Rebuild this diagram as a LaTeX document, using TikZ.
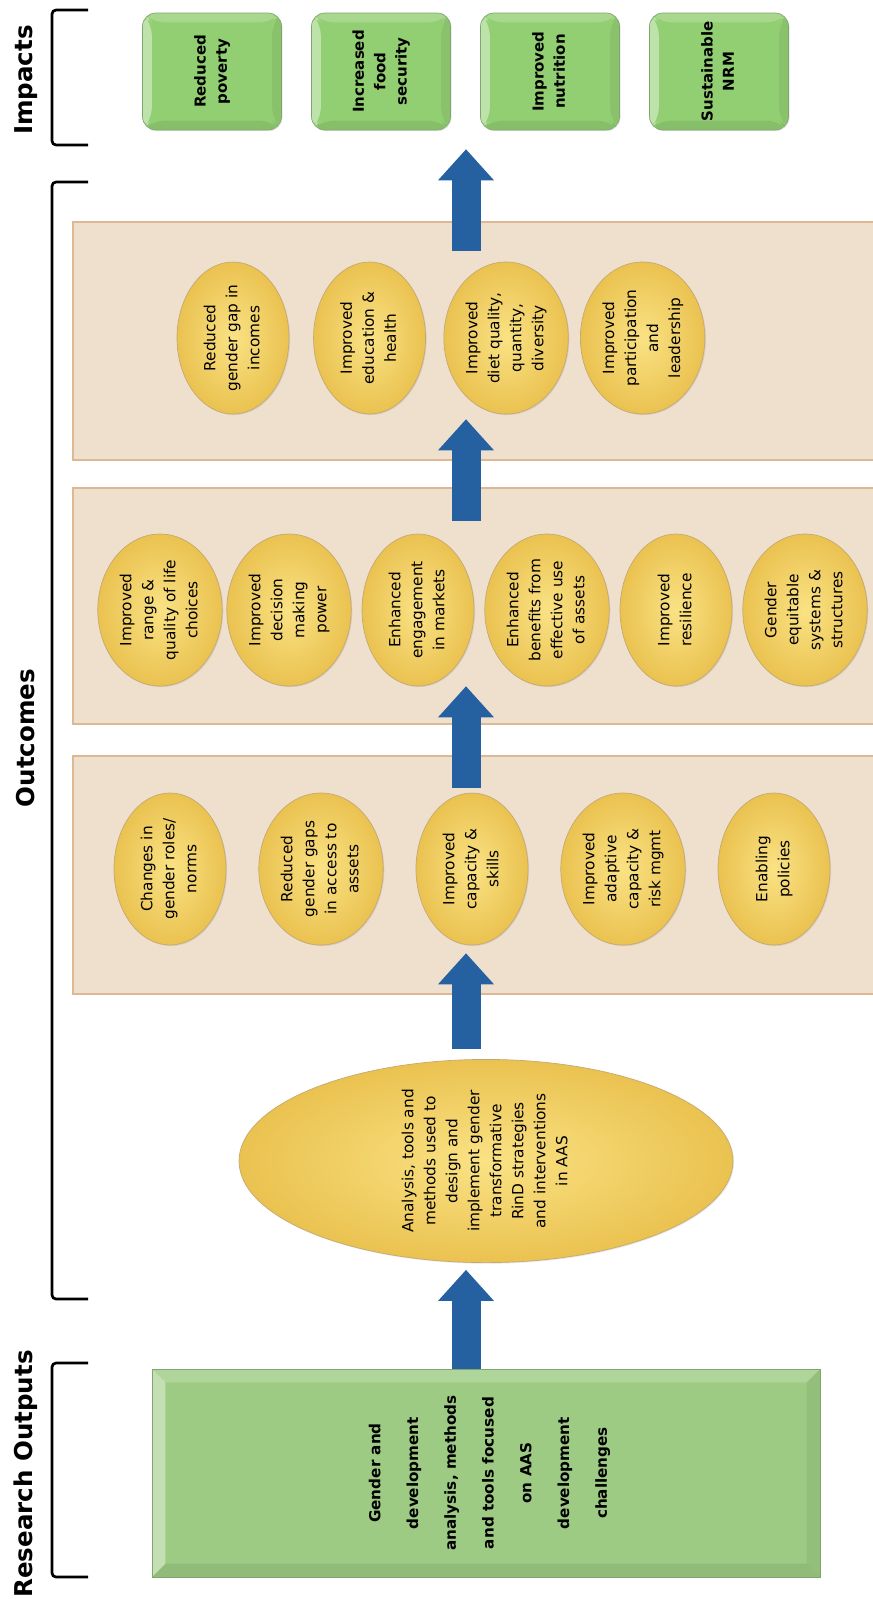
\documentclass[tikz,border=0pt]{standalone}
\usepackage{fontspec}
\setmainfont{DejaVu Sans}
\usetikzlibrary{arrows.meta}
\usetikzlibrary{positioning}
\usetikzlibrary{shapes.geometric}
\usetikzlibrary{shadows}

\definecolor{impgreen}{RGB}{146,207,114}
\definecolor{resgreen}{RGB}{157,203,131}
\definecolor{greenedge}{RGB}{128,166,112}
\definecolor{panelfill}{RGB}{239,224,206}
\definecolor{paneledge}{RGB}{222,184,146}
\definecolor{ovalin}{RGB}{250,226,132}
\definecolor{ovalout}{RGB}{234,194,80}
\definecolor{ovaledge}{RGB}{196,168,112}
\definecolor{flowblue}{RGB}{37,97,160}

\newcommand{\vtext}[1]{\rotatebox{90}{\begin{tabular}{@{}c@{}}#1\end{tabular}}}

\tikzset{
	mydiagram/.style = {
		x=0.75pt, y=-0.75pt, font=\fontsize{11.5}{16.5}\selectfont,
	},
	grouplabel/.style = {rotate=90, inner sep=0pt, font=\fontsize{18.4}{22}\selectfont\bfseries},
	bracket/.style = {line width=2pt, rounded corners=3pt},
	panel/.style = {draw=paneledge, fill=panelfill, line width=2pt, minimum width=620.25pt, inner sep=0pt},
	outoval/.style = {ellipse, draw=ovaledge, line width=0.5pt, inner color=ovalin, outer color=ovalout,
		minimum width=84pt, minimum height=114pt, inner sep=0pt,
		drop shadow={opacity=0.2, shadow xshift=0.8pt, shadow yshift=-0.8pt}},
	bevel/.style = {path picture={
		\fill[white, opacity=0.4] (path picture bounding box.south west) -- (path picture bounding box.north west)
			-- ([xshift=#1, yshift=-#1]path picture bounding box.north west) -- ([xshift=#1, yshift=#1]path picture bounding box.south west) -- cycle;
		\fill[white, opacity=0.2] (path picture bounding box.north west) -- (path picture bounding box.north east)
			-- ([xshift=-#1, yshift=-#1]path picture bounding box.north east) -- ([xshift=#1, yshift=-#1]path picture bounding box.north west) -- cycle;
		\fill[black, opacity=0.06] (path picture bounding box.north east) -- (path picture bounding box.south east)
			-- ([xshift=-#1, yshift=#1]path picture bounding box.south east) -- ([xshift=-#1, yshift=-#1]path picture bounding box.north east) -- cycle;
		\fill[black, opacity=0.08] (path picture bounding box.south east) -- (path picture bounding box.south west)
			-- ([xshift=#1, yshift=#1]path picture bounding box.south west) -- ([xshift=-#1, yshift=#1]path picture bounding box.south east) -- cycle;
	}},
	impbox/.style = {draw=greenedge, fill=impgreen, rounded corners=10pt, line width=0.5pt, bevel=7pt,
		minimum width=104.25pt, minimum height=87.75pt, inner sep=0pt,
		font=\fontsize{11.25}{16}\selectfont\bfseries,
		drop shadow={opacity=0.2, shadow xshift=0.8pt, shadow yshift=-0.8pt}},
	resbox/.style = {draw=greenedge, fill=resgreen, line width=0.5pt, bevel=10pt,
		minimum width=501pt, minimum height=156pt, inner sep=0pt,
		font=\fontsize{11.4}{28.3}\selectfont\bfseries,
		drop shadow={opacity=0.2, shadow xshift=0.8pt, shadow yshift=-0.8pt}},
	flowarrow/.style = {draw=flowblue, line width=21.75pt,
		-{Triangle[length=23.25pt, width=42pt, line width=0pt]}},
}

\begin{document}
\begin{tikzpicture}[mydiagram]
	\useasboundingbox (0,0) rectangle (873,1599);
	
	% group labels and brackets
	\node[grouplabel] (implab) at (26,80) {Impacts};
	\node[grouplabel] (outlab) at (26,738) {Outcomes};
	\node[grouplabel] (reslab) at (26,1474) {Research Outputs};
	\draw[bracket] (88,10) -- (52,10) -- (52,145) -- (88,145);
	\draw[bracket] (88,182) -- (52,182) -- (52,1299) -- (88,1299);
	\draw[bracket] (88,1363) -- (52,1363) -- (52,1577) -- (88,1577);
	
	% impacts
	\begin{scope}[node distance=126.75pt]
		\node[impbox] (imp1) at (212,71.5) {\vtext{Reduced\\poverty}};
		\node[impbox] (imp2) [right of=imp1] {\vtext{Increased\\food\\security}};
		\node[impbox] (imp3) [right of=imp2] {\vtext{Improved\\nutrition}};
		\node[impbox] (imp4) [right of=imp3] {\vtext{Sustainable\\NRM}};
	\end{scope}
	
	% outcome panels
	\node[panel, minimum height=178.5pt] (pan3) at (486.5,341) {};
	\node[panel, minimum height=177pt] (pan2) at (486.5,606) {};
	\node[panel, minimum height=178.5pt] (pan1) at (486.5,875) {};
	
	\begin{scope}[node distance=102.4pt]
		\node[outoval] (o31) at (233,338) {\vtext{Reduced\\gender gap in\\incomes}};
		\node[outoval] (o32) [right of=o31] {\vtext{Improved\\education \&\\health}};
		\node[outoval] (o33) [right of=o32] {\vtext{Improved\\diet quality,\\quantity,\\diversity}};
		\node[outoval] (o34) [right of=o33] {\vtext{Improved\\participation\\and\\leadership}};
	\end{scope}
	
	\begin{scope}[node distance=96.75pt]
		\node[outoval] (o21) at (160,610) {\vtext{Improved\\range \&\\quality of life\\choices}};
		\node[outoval] (o22) [right of=o21] {\vtext{Improved\\decision\\making\\power}};
		\node[outoval] (o23) [right of=o22] {\vtext{Enhanced\\engagement\\in markets}};
		\node[outoval] (o24) [right of=o23] {\vtext{Enhanced\\benefits from\\effective use\\of assets}};
		\node[outoval] (o25) [right of=o24] {\vtext{Improved\\resilience}};
		\node[outoval] (o26) [right of=o25] {\vtext{Gender\\equitable\\systems \&\\structures}};
	\end{scope}
	
	\begin{scope}[node distance=113.25pt]
		\node[outoval] (o11) at (170,869) {\vtext{Changes in\\gender roles/\\norms}};
		\node[outoval] (o12) [right of=o11] {\vtext{Reduced\\gender gaps\\in access to\\assets}};
		\node[outoval] (o13) [right of=o12] {\vtext{Improved\\capacity \&\\skills}};
		\node[outoval] (o14) [right of=o13] {\vtext{Improved\\adaptive\\capacity \&\\risk mgmt}};
		\node[outoval] (o15) [right of=o14] {\vtext{Enabling\\policies}};
	\end{scope}
	
	\node[outoval, minimum width=370.5pt, minimum height=148.5pt] (ana) at (486,1161)
		{\vtext{Analysis, tools and\\methods used to\\design and\\implement gender\\transformative\\RinD strategies\\and interventions\\in AAS}};
	
	% research outputs
	\node[resbox] (res) at (486,1473)
		{\vtext{Gender and\\development\\analysis, methods\\and tools focused\\on AAS\\development\\challenges}};
	
	% flow arrows
	\coordinate (col) at (466,0);
	\draw[flowarrow, shorten >=5.25pt] (res.north -| col) -- (ana.south -| col);
	\draw[flowarrow, shorten <=7.5pt, shorten >=6pt] (ana.north -| col) -- (o13.south -| col);
	\draw[flowarrow, shorten <=3.75pt] (o13.north -| col) -- (o23.south -| col);
	\draw[flowarrow, shorten <=9.75pt, shorten >=3.75pt] (o23.north -| col) -- (o33.south -| col);
	\draw[flowarrow, shorten <=8.25pt, shorten >=14.25pt] (o33.north -| col) -- (imp3.south -| col);
\end{tikzpicture}
\end{document}
